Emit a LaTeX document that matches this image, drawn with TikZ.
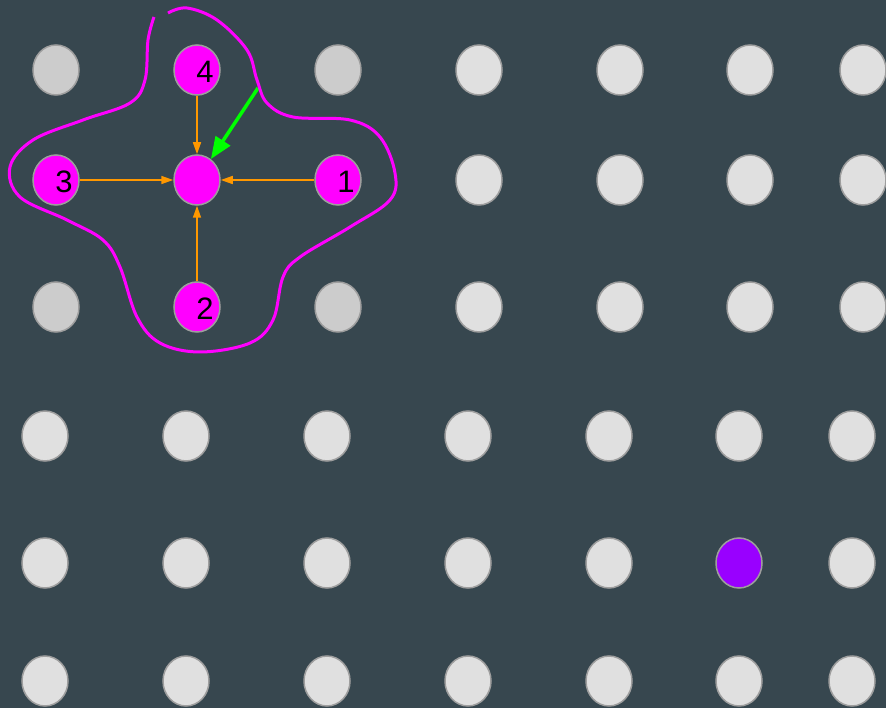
\documentclass[tikz,border=0pt]{standalone}
\usepackage{fontspec}
\setmainfont{Liberation Sans}
\usetikzlibrary{shapes.geometric, arrows.meta}

\definecolor{slate}{HTML}{37474F}
\definecolor{dotgray}{HTML}{E0E0E0}
\definecolor{cornergray}{HTML}{CCCCCC}
\definecolor{dotrim}{HTML}{9E9E9E}
\definecolor{hotpink}{HTML}{FF00FF}
\definecolor{lonepurple}{HTML}{9900FF}
\definecolor{feedorange}{HTML}{FF9800}
\definecolor{hintgreen}{HTML}{00FF00}

\begin{document}
\begin{tikzpicture}[
  x=1pt, y=-1pt,
  dot/.style={ellipse, draw=dotrim, line width=1.5pt, minimum width=46pt, minimum height=50pt, inner sep=0pt, fill=dotgray},
  corner/.style={dot, fill=cornergray},
  picked/.style={dot, fill=hotpink},
  lone/.style={dot, fill=lonepurple},
  num/.style={font=\fontsize{31}{31}\selectfont, text=black, xshift=8pt, yshift=-1.5pt},
  feed/.style={-{Triangle[length=12pt,width=8pt]}, line width=1.5pt, draw=feedorange},
  hint/.style={-{Triangle[length=22pt,width=17pt]}, line width=3.5pt, draw=hintgreen},
  blob/.style={draw=hotpink, line width=3pt}
]
\useasboundingbox (0,0) rectangle (886,708);
\fill[slate] (0,0) rectangle (886,708);

% plain grid, upper right block
\foreach \y [count=\r] in {70,180,307} {
  \foreach \x [count=\c from 4] in {479,620,750,863}
    \node (g\r\c) [dot] at (\x,\y) {};
}
% lower rows
\foreach \y [count=\r from 4] in {436,681} {
  \foreach \x [count=\c] in {45,186,327,468,609,739,852}
    \node (g\r\c) [dot] at (\x,\y) {};
}
\foreach \x/\s [count=\c] in {45/dot,186/dot,327/dot,468/dot,609/dot,739/lone,852/dot}
  \node (g5\c) [\s] at (\x,563) {};

% the neighbourhood
\node (g11) [corner] at (56,70) {};
\node (g13) [corner] at (338,70) {};
\node (g31) [corner] at (56,307) {};
\node (g33) [corner] at (338,307) {};

\node (mid) [picked] at (197,180) {};
\node (nb4) [picked, label={[num]center:4}] at (197,70) {};
\node (nb3) [picked, label={[num]center:3}] at (56,180) {};
\node (nb1) [picked, label={[num]center:1}] at (338,180) {};
\node (nb2) [picked, label={[num]center:2}] at (197,307) {};

\draw [feed] (nb4) -- (mid);
\draw [feed] (nb3) -- (mid);
\draw [feed] (nb1) -- (mid);
\draw [feed] (nb2) -- (mid);

\coordinate (pen) at (258,88);
\draw [hint] (pen) -- (mid);

\draw [blob] plot[smooth, tension=0.6] coordinates {
  (154,17) (148,40) (145,80) (130,103) (83,120) (33,140) (10,167) (20,197)
  (67,220) (103,240) (120,267) (137,317) (160,343) (200,352) (250,343)
  (273,320) (283,277) (300,257) (350,227) (390,200) (395,173) (380,137)
  (350,120) (293,117) (267,103) (257,80) (247,50) (217,20) (187,8) (168,13)};

\end{tikzpicture}
\end{document}
